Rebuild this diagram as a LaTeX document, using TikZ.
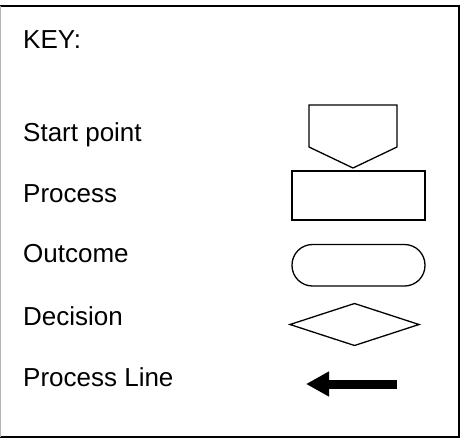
\documentclass[tikz,border=0pt]{standalone}
\usepackage{fontspec}
\setmainfont{Liberation Sans}
\usetikzlibrary{arrows.meta}
\tikzset{
  keylabel/.style={anchor=base west, inner sep=0pt, font=\fontsize{26}{30}\selectfont},
  thinshape/.style={draw=black, line width=1.3pt, line join=miter},
  thickshape/.style={draw=black, line width=2.2pt},
  frameline/.style={draw=black, line width=2pt},
}
\begin{document}
\begin{tikzpicture}[x=1pt,y=-1pt]
\useasboundingbox (0,0) rectangle (461,440);
\fill[white] (0,0) rectangle (461,440);
% frame
\draw[frameline] (0,5.5) -- (459,5.5) -- (459,436.5) -- (0,436.5);
\draw[gray!60, line width=1pt] (0.7,5.5) -- (0.7,436.5);
% labels
\node[keylabel] (key) at (23,48) {KEY:};
\node[keylabel] (start) at (23,141) {Start point};
\node[keylabel] (process) at (23,202) {Process};
\node[keylabel] (outcome) at (23,262) {Outcome};
\node[keylabel] (decision) at (23,325) {Decision};
\node[keylabel] (pline) at (23,386) {Process Line};
% start point shape
\draw[thinshape] (309,105) -- (397,105) -- (397,147) -- (353,168) -- (309,147) -- cycle;
% process rectangle
\draw[thickshape] (292,171) rectangle (425,220);
% outcome (rounded)
\draw[thinshape, rounded corners=20.5pt] (292,244.5) rectangle (425,286);
% decision diamond
\draw[thinshape] (290,324.5) -- (354.5,303.5) -- (419,324.5) -- (354.5,345.5) -- cycle;
% process line arrow
\coordinate (tail) at (397,384);
\coordinate (tip) at (306,384);
\draw[line width=9pt, -{Triangle[length=23pt,width=23.5pt]}] (tail) -- (tip);
\end{tikzpicture}
\end{document}
